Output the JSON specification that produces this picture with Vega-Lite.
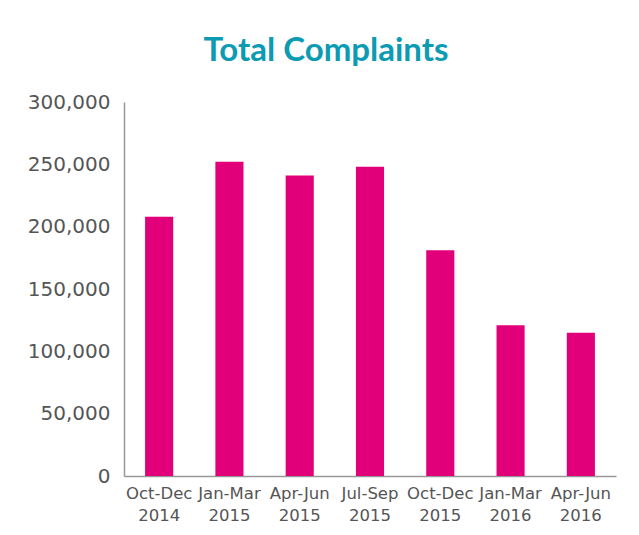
{
  "$schema": "https://vega.github.io/schema/vega-lite/v6.json",
  "width": 492,
  "height": 374,
  "autosize": {"type": "none"},
  "padding": {"left": 124, "top": 102, "right": 23, "bottom": 59},
  "background": "white",
  "title": {
    "text": "Total Complaints",
    "anchor": "middle",
    "frame": "group",
    "dx": -44,
    "offset": -2,
    "baseline": "alphabetic",
    "font": "Lato",
    "fontSize": 33,
    "fontWeight": "bold",
    "color": "#0C9BB3"
  },
  "data": {
    "values": [
      {"period": "Oct-Dec 2014", "complaints": 208000},
      {"period": "Jan-Mar 2015", "complaints": 252000},
      {"period": "Apr-Jun 2015", "complaints": 241000},
      {"period": "Jul-Sep 2015", "complaints": 248000},
      {"period": "Oct-Dec 2015", "complaints": 181000},
      {"period": "Jan-Mar 2016", "complaints": 121000},
      {"period": "Apr-Jun 2016", "complaints": 115000}
    ]
  },
  "mark": {"type": "bar", "color": "#E2007A"},
  "encoding": {
    "x": {
      "field": "period",
      "type": "nominal",
      "sort": null,
      "scale": {"paddingInner": 0.6, "paddingOuter": 0.3},
      "axis": {
        "title": null,
        "labelAngle": 0,
        "labelExpr": "split(datum.label, ' ')",
        "labelFont": "DejaVu Sans",
        "labelFontSize": 16.5,
        "labelLineHeight": 22,
        "labelColor": "#555555",
        "labelPadding": 9,
        "labelOverlap": false,
        "ticks": false,
        "domainColor": "#999999",
        "domainWidth": 1.5,
        "labelBaseline": "top"
      }
    },
    "y": {
      "field": "complaints",
      "type": "quantitative",
      "scale": {"domain": [0, 300000]},
      "axis": {
        "title": null,
        "values": [0, 50000, 100000, 150000, 200000, 250000, 300000],
        "format": ",d",
        "grid": false,
        "ticks": false,
        "labelFont": "DejaVu Sans",
        "labelFontSize": 20,
        "labelColor": "#555555",
        "labelPadding": 14,
        "domainColor": "#999999",
        "domainWidth": 1.5
      }
    }
  },
  "config": {"view": {"stroke": null}}
}
